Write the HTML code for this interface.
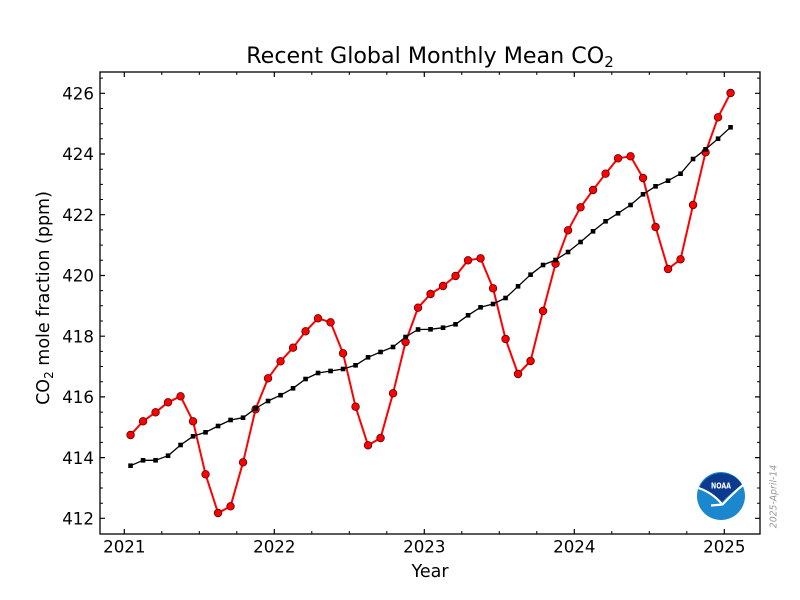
<!DOCTYPE html>
<html>
<head>
<meta charset="utf-8">
<style>
  html, body { margin:0; padding:0; background:#fff; }
  svg { display:block; }
  text { font-family: "DejaVu Sans", "Liberation Sans", sans-serif; fill:#000; }
</style>
</head>
<body>
<svg width="800" height="600" viewBox="0 0 800 600" xmlns="http://www.w3.org/2000/svg">
  <rect x="0" y="0" width="800" height="600" fill="#fff"/>

  <!-- Title -->
  <text x="430" y="63" font-size="22.2" text-anchor="middle">Recent Global Monthly Mean CO<tspan font-size="15" dy="4">2</tspan></text>

  <!-- Series: monthly mean (red) -->
  <polyline fill="none" stroke="#ff0000" stroke-width="2" stroke-linejoin="round"
    points="130.55,435 143.05,421.3 155.55,412.3 168.05,402.3 180.55,396.3 193.05,421.3 205.55,474.3 218.05,513 230.55,506.3 243.05,462.3 255.55,409.3 268.05,378.3
    280.55,361.3 293.05,347.7 305.55,331.3 318.05,318.3 330.55,322.3 343.05,353.3 355.55,406.7 368.05,445.3 380.55,438 393.05,393.3 405.55,342 418.05,307.7
    430.55,294 443.05,286 455.55,276 468.05,260.3 480.55,258.3 493.05,288.3 505.55,339 518.05,374 530.55,361 543.05,311 555.55,263.7 568.05,230.3
    580.55,207.3 593.05,190 605.55,173.7 618.05,158.3 630.55,156.3 643.05,178 655.55,227 668.05,269 680.55,259.3 693.05,205 705.55,152.3 718.05,117.3
    730.55,93"/>
  <g fill="#ff0000" stroke="#5a0000" stroke-width="0.8">
    <circle cx="130.55" cy="435" r="3.8"/><circle cx="143.05" cy="421.3" r="3.8"/><circle cx="155.55" cy="412.3" r="3.8"/><circle cx="168.05" cy="402.3" r="3.8"/><circle cx="180.55" cy="396.3" r="3.8"/><circle cx="193.05" cy="421.3" r="3.8"/><circle cx="205.55" cy="474.3" r="3.8"/><circle cx="218.05" cy="513" r="3.8"/><circle cx="230.55" cy="506.3" r="3.8"/><circle cx="243.05" cy="462.3" r="3.8"/><circle cx="255.55" cy="409.3" r="3.8"/><circle cx="268.05" cy="378.3" r="3.8"/>
    <circle cx="280.55" cy="361.3" r="3.8"/><circle cx="293.05" cy="347.7" r="3.8"/><circle cx="305.55" cy="331.3" r="3.8"/><circle cx="318.05" cy="318.3" r="3.8"/><circle cx="330.55" cy="322.3" r="3.8"/><circle cx="343.05" cy="353.3" r="3.8"/><circle cx="355.55" cy="406.7" r="3.8"/><circle cx="368.05" cy="445.3" r="3.8"/><circle cx="380.55" cy="438" r="3.8"/><circle cx="393.05" cy="393.3" r="3.8"/><circle cx="405.55" cy="342" r="3.8"/><circle cx="418.05" cy="307.7" r="3.8"/>
    <circle cx="430.55" cy="294" r="3.8"/><circle cx="443.05" cy="286" r="3.8"/><circle cx="455.55" cy="276" r="3.8"/><circle cx="468.05" cy="260.3" r="3.8"/><circle cx="480.55" cy="258.3" r="3.8"/><circle cx="493.05" cy="288.3" r="3.8"/><circle cx="505.55" cy="339" r="3.8"/><circle cx="518.05" cy="374" r="3.8"/><circle cx="530.55" cy="361" r="3.8"/><circle cx="543.05" cy="311" r="3.8"/><circle cx="555.55" cy="263.7" r="3.8"/><circle cx="568.05" cy="230.3" r="3.8"/>
    <circle cx="580.55" cy="207.3" r="3.8"/><circle cx="593.05" cy="190" r="3.8"/><circle cx="605.55" cy="173.7" r="3.8"/><circle cx="618.05" cy="158.3" r="3.8"/><circle cx="630.55" cy="156.3" r="3.8"/><circle cx="643.05" cy="178" r="3.8"/><circle cx="655.55" cy="227" r="3.8"/><circle cx="668.05" cy="269" r="3.8"/><circle cx="680.55" cy="259.3" r="3.8"/><circle cx="693.05" cy="205" r="3.8"/><circle cx="705.55" cy="152.3" r="3.8"/><circle cx="718.05" cy="117.3" r="3.8"/>
    <circle cx="730.55" cy="93" r="3.8"/>
  </g>

  <!-- Series: trend (black) -->
  <polyline fill="none" stroke="#000" stroke-width="1.3" stroke-linejoin="round"
    points="130.55,465.7 143.05,460.3 155.55,460.3 168.05,455.7 180.55,445 193.05,436.3 205.55,432.3 218.05,426 230.55,420 243.05,417.7 255.55,408.5 268.05,401
    280.55,395.2 293.05,388.3 305.55,379 318.05,373 330.55,371 343.05,369 355.55,365.3 368.05,357.3 380.55,352 393.05,347 405.55,337 418.05,329.5
    430.55,329.3 443.05,327.7 455.55,324.3 468.05,315.3 480.55,307.3 493.05,304 505.55,298 518.05,286.3 530.55,274.7 543.05,265 555.55,260 568.05,252
    580.55,242 593.05,231.3 605.55,221.3 618.05,213.3 630.55,205 643.05,194.3 655.55,186.3 668.05,180.7 680.55,173.7 693.05,159 705.55,149.3 718.05,138.7
    730.55,127.3"/>
  <g fill="#000">
    <rect x="128.25" y="463.4" width="4.6" height="4.6"/><rect x="140.75" y="458" width="4.6" height="4.6"/><rect x="153.25" y="458" width="4.6" height="4.6"/><rect x="165.75" y="453.4" width="4.6" height="4.6"/><rect x="178.25" y="442.7" width="4.6" height="4.6"/><rect x="190.75" y="434" width="4.6" height="4.6"/><rect x="203.25" y="430" width="4.6" height="4.6"/><rect x="215.75" y="423.7" width="4.6" height="4.6"/><rect x="228.25" y="417.7" width="4.6" height="4.6"/><rect x="240.75" y="415.4" width="4.6" height="4.6"/><rect x="253.25" y="406.2" width="4.6" height="4.6"/><rect x="265.75" y="398.7" width="4.6" height="4.6"/>
    <rect x="278.25" y="392.9" width="4.6" height="4.6"/><rect x="290.75" y="386" width="4.6" height="4.6"/><rect x="303.25" y="376.7" width="4.6" height="4.6"/><rect x="315.75" y="370.7" width="4.6" height="4.6"/><rect x="328.25" y="368.7" width="4.6" height="4.6"/><rect x="340.75" y="366.7" width="4.6" height="4.6"/><rect x="353.25" y="363" width="4.6" height="4.6"/><rect x="365.75" y="355" width="4.6" height="4.6"/><rect x="378.25" y="349.7" width="4.6" height="4.6"/><rect x="390.75" y="344.7" width="4.6" height="4.6"/><rect x="403.25" y="334.7" width="4.6" height="4.6"/><rect x="415.75" y="327.2" width="4.6" height="4.6"/>
    <rect x="428.25" y="327" width="4.6" height="4.6"/><rect x="440.75" y="325.4" width="4.6" height="4.6"/><rect x="453.25" y="322" width="4.6" height="4.6"/><rect x="465.75" y="313" width="4.6" height="4.6"/><rect x="478.25" y="305" width="4.6" height="4.6"/><rect x="490.75" y="301.7" width="4.6" height="4.6"/><rect x="503.25" y="295.7" width="4.6" height="4.6"/><rect x="515.75" y="284" width="4.6" height="4.6"/><rect x="528.25" y="272.4" width="4.6" height="4.6"/><rect x="540.75" y="262.7" width="4.6" height="4.6"/><rect x="553.25" y="257.7" width="4.6" height="4.6"/><rect x="565.75" y="249.7" width="4.6" height="4.6"/>
    <rect x="578.25" y="239.7" width="4.6" height="4.6"/><rect x="590.75" y="229" width="4.6" height="4.6"/><rect x="603.25" y="219" width="4.6" height="4.6"/><rect x="615.75" y="211" width="4.6" height="4.6"/><rect x="628.25" y="202.7" width="4.6" height="4.6"/><rect x="640.75" y="192" width="4.6" height="4.6"/><rect x="653.25" y="184" width="4.6" height="4.6"/><rect x="665.75" y="178.4" width="4.6" height="4.6"/><rect x="678.25" y="171.4" width="4.6" height="4.6"/><rect x="690.75" y="156.7" width="4.6" height="4.6"/><rect x="703.25" y="147" width="4.6" height="4.6"/><rect x="715.75" y="136.4" width="4.6" height="4.6"/>
    <rect x="728.25" y="125" width="4.6" height="4.6"/>
  </g>

  <!-- NOAA logo -->
  <g>
    <circle cx="721" cy="496" r="24" fill="#1a87cf"/>
    <path d="M699.6,487.5 A24,24 0 0 1 742.6,485.5 Q731,492 721.5,502.5 Q712,493 699.6,487.5 Z" fill="#0b3a8e"/>
    <path d="M698.5,488 Q712,492.5 721.5,503.5" fill="none" stroke="#fff" stroke-width="2.2"/>
    <path d="M743.5,484.5 Q732,494 722.5,504.5 L711,505.5" fill="none" stroke="#fff" stroke-width="2.2" stroke-linejoin="round"/>
    <text x="721" y="488.3" font-size="8.3" font-weight="bold" text-anchor="middle" style="fill:#fff" textLength="20" lengthAdjust="spacingAndGlyphs">NOAA</text>
  </g>

  <!-- Axes spines -->
  <rect x="100" y="72" width="660" height="462" fill="none" stroke="#000" stroke-width="1.3"/>

  <!-- Major ticks -->
  <path stroke="#000" stroke-width="1.2" fill="none" d="
    M100,93.3h5 M100,154h5 M100,214.7h5 M100,275.5h5 M100,336.2h5 M100,396.9h5 M100,457.6h5 M100,518.3h5
    M760,93.3h-5 M760,154h-5 M760,214.7h-5 M760,275.5h-5 M760,336.2h-5 M760,396.9h-5 M760,457.6h-5 M760,518.3h-5
    M124.3,534v-5 M274.3,534v-5 M424.3,534v-5 M574.3,534v-5 M724.3,534v-5
    M124.3,72v5 M274.3,72v5 M424.3,72v5 M574.3,72v5 M724.3,72v5"/>
  <!-- Minor ticks -->
  <path stroke="#000" stroke-width="1" fill="none" d="
    M100,78.1h3 M100,108.5h3 M100,123.7h3 M100,138.8h3 M100,169.2h3 M100,184.4h3 M100,199.5h3 M100,229.9h3 M100,245.1h3 M100,260.3h3 M100,290.6h3 M100,305.8h3 M100,321h3 M100,351.4h3 M100,366.5h3 M100,381.7h3 M100,412.1h3 M100,427.3h3 M100,442.4h3 M100,472.8h3 M100,488h3 M100,503.2h3
    M760,78.1h-3 M760,108.5h-3 M760,123.7h-3 M760,138.8h-3 M760,169.2h-3 M760,184.4h-3 M760,199.5h-3 M760,229.9h-3 M760,245.1h-3 M760,260.3h-3 M760,290.6h-3 M760,305.8h-3 M760,321h-3 M760,351.4h-3 M760,366.5h-3 M760,381.7h-3 M760,412.1h-3 M760,427.3h-3 M760,442.4h-3 M760,472.8h-3 M760,488h-3 M760,503.2h-3
    M161.8,534v-3 M199.3,534v-3 M236.8,534v-3 M311.8,534v-3 M349.3,534v-3 M386.8,534v-3 M461.8,534v-3 M499.3,534v-3 M536.8,534v-3 M611.8,534v-3 M649.3,534v-3 M686.8,534v-3
    M161.8,72v3 M199.3,72v3 M236.8,72v3 M311.8,72v3 M349.3,72v3 M386.8,72v3 M461.8,72v3 M499.3,72v3 M536.8,72v3 M611.8,72v3 M649.3,72v3 M686.8,72v3"/>

  <!-- Y tick labels -->
  <g font-size="16.67" text-anchor="end">
    <text x="94" y="99.5">426</text>
    <text x="94" y="160.2">424</text>
    <text x="94" y="220.9">422</text>
    <text x="94" y="281.7">420</text>
    <text x="94" y="342.4">418</text>
    <text x="94" y="403.1">416</text>
    <text x="94" y="463.8">414</text>
    <text x="94" y="524.5">412</text>
  </g>

  <!-- X tick labels -->
  <g font-size="16.67" text-anchor="middle">
    <text x="124.3" y="552.5">2021</text>
    <text x="274.3" y="552.5">2022</text>
    <text x="424.3" y="552.5">2023</text>
    <text x="574.3" y="552.5">2024</text>
    <text x="724.3" y="552.5">2025</text>
  </g>

  <!-- Axis labels -->
  <text x="430" y="577" font-size="17.5" text-anchor="middle">Year</text>
  <text transform="translate(49,298) rotate(-90)" font-size="17.5" text-anchor="middle">CO<tspan font-size="12" dy="4">2</tspan><tspan dy="-4"> mole fraction (ppm)</tspan></text>

  <!-- Date stamp -->
  <text transform="translate(776.5,496.5) rotate(-90)" font-size="9.3" font-style="italic" text-anchor="middle" style="fill:#999">2025-April-14</text>
</svg>
</body>
</html>
